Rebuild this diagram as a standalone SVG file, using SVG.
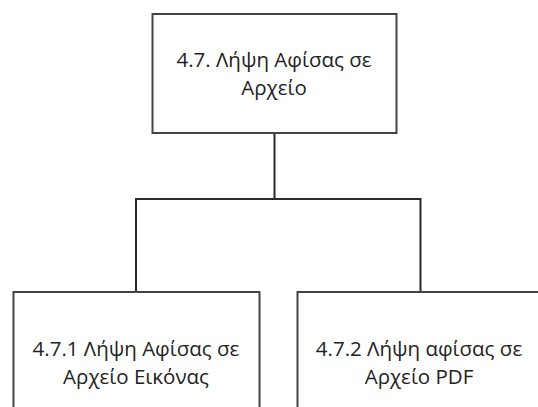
<svg xmlns="http://www.w3.org/2000/svg" width="538" height="407" viewBox="0 0 538 407">
<style>
.box{fill:#fff;stroke:#444;stroke-width:2}
.conn{fill:none;stroke:#2a2a2a;stroke-width:2}
.t{font-family:"Open Sans","Noto Sans",sans-serif;font-size:20.5px;fill:#222;text-anchor:middle}
</style>
<rect width="538" height="407" fill="#fff"/>
<g id="connectors">
<path class="conn" d="M274.5 133 V199 M136 292 V199 H420.5 V292"/>
</g>
<g id="n47">
<rect class="box" x="152.5" y="14" width="244" height="119"/>
<text class="t" x="274" y="67">4.7. Λήψη Αφίσας σε</text>
<text class="t" x="274" y="95">Αρχείο</text>
</g>
<g id="n471">
<rect class="box" x="13.5" y="292" width="246" height="130"/>
<text class="t" x="136" y="356">4.7.1 Λήψη Αφίσας σε</text>
<text class="t" x="136" y="384">Αρχείο Εικόνας</text>
</g>
<g id="n472">
<rect class="box" x="297.5" y="292" width="246" height="130"/>
<text class="t" x="419" y="356">4.7.2 Λήψη αφίσας σε</text>
<text class="t" x="419" y="384">Αρχείο PDF</text>
</g>
</svg>
